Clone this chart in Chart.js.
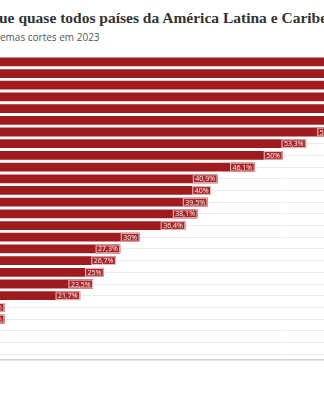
<!DOCTYPE html>
<html><head><meta charset="utf-8">
<script src="https://cdn.jsdelivr.net/npm/chart.js@4"></script>
<style>
html,body{margin:0;padding:0;width:324px;height:400px;overflow:hidden;background:#fff;}
#title{position:absolute;left:-1px;top:9px;white-space:nowrap;font:bold 15.5px "Liberation Serif",serif;color:#333;}
#sub{position:absolute;left:0;top:30px;white-space:nowrap;font:10px "Open Sans",sans-serif;color:#555;}
#wrap{position:absolute;left:-75px;top:54px;width:715px;height:310px;}
</style></head><body>
<div id="title">ue quase todos países da América Latina e Caribe</div>
<div id="sub">emas cortes em 2023</div>
<div id="wrap"><canvas id="c" width="715" height="310" style="width:715px;height:310px"></canvas></div>
<script>
// Category names are cropped out of the reference; placeholders keep the row order.
const categories = ["País 1","País 2","País 3","País 4","País 5","País 6","País 7","País 8","País 9","País 10","País 11","País 12","País 13","País 14","País 15","País 16","País 17","País 18","País 19","País 20","País 21","País 22","País 23","País 24","País 25","País 26"];
const values = [100, 88.9, 80, 75, 71.4, 66.7, 58.3, 53.3, 50, 46.1, 40.9, 40, 39.5, 38.1, 36.4, 30, 27.3, 26.7, 25, 23.5, 21.7, 11.1, 11.1, 0, 0, 0];
const valueLabels = values.map(v => (Math.round(v*10)/10).toString().replace('.', ',') + '%');
const axisMax = 100;

const labelPlugin = {
  id: 'barLabels',
  afterDatasetsDraw(chart) {
    const ctx = chart.ctx;
    const meta = chart.getDatasetMeta(0);
    ctx.save();
    ctx.font = '7px "Open Sans", sans-serif';
    ctx.textBaseline = 'middle';
    ctx.textAlign = 'center';
    meta.data.forEach((bar, i) => {
      if (!values[i]) return;
      const t = valueLabels[i];
      const w = ctx.measureText(t).width + 5;
      const p = bar.getProps(['x', 'y', 'height'], true);
      const h = p.height;
      const left = p.x - w;
      ctx.fillStyle = '#a8292d';
      ctx.fillRect(left, p.y - h/2, w, h);
      ctx.strokeStyle = '#ecbcbc';
      ctx.lineWidth = 1;
      ctx.strokeRect(left + 0.5, p.y - h/2 + 0.5, w - 1, h - 1);
      ctx.fillStyle = '#fbeeee';
      ctx.fillText(t, left + w/2, p.y + 0.5);
    });
    ctx.restore();
  }
};

new Chart(document.getElementById('c'), {
  type: 'bar',
  data: {
    labels: categories,
    datasets: [{
      data: values,
      backgroundColor: '#9e1b1f',
      borderWidth: 0,
      categoryPercentage: 1,
      barPercentage: 0.75
    }]
  },
  options: {
    indexAxis: 'y',
    responsive: false,
    animation: false,
    layout: { padding: { top: 2, bottom: 4, left: 0, right: 0 } },
    plugins: { legend: { display: false }, tooltip: { enabled: false } },
    scales: {
      x: {
        min: 0, max: axisMax,
        ticks: { display: false },
        grid: { display: false, drawTicks: false },
        border: { display: true, color: '#d0d0d0', width: 1.5 },
        afterFit(s) { s.height = 0; }
      },
      y: {
        ticks: { display: false },
        grid: { offset: false, color: '#ebebeb', drawTicks: false },
        border: { display: false },
        afterFit(s) { s.width = 0; }
      }
    }
  },
  plugins: [labelPlugin]
});
</script>
</body></html>
